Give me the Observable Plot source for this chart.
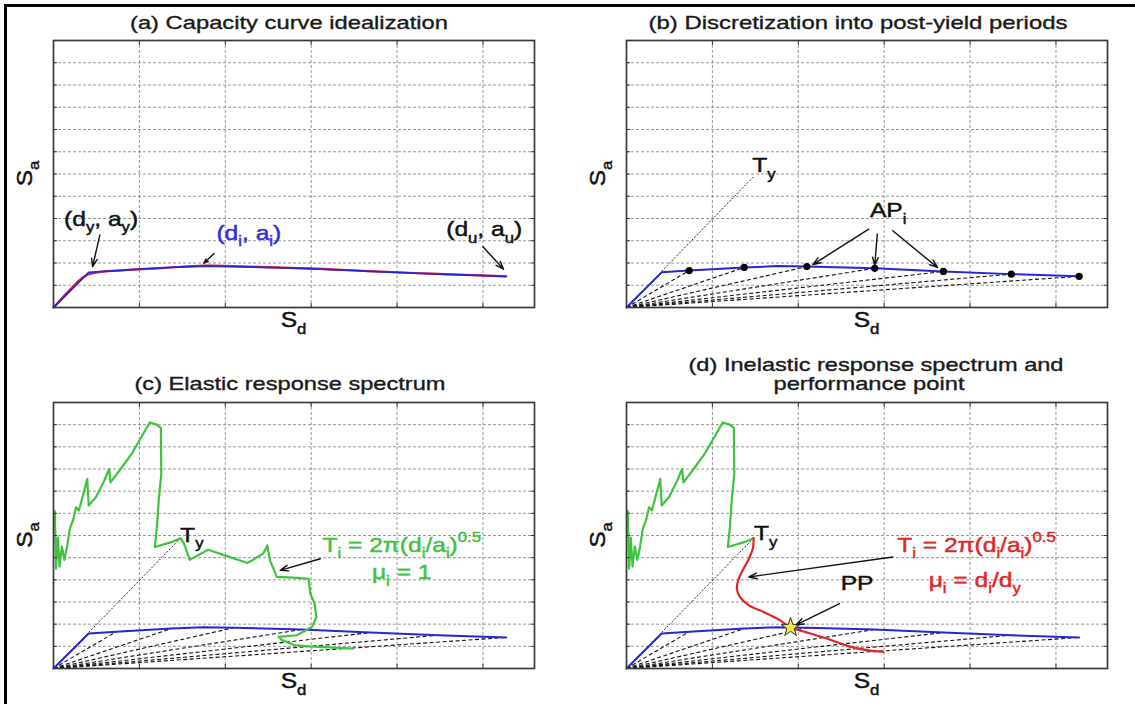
<!DOCTYPE html>
<html><head><meta charset="utf-8">
<script src="https://cdn.jsdelivr.net/npm/d3@7"></script>
<script src="https://cdn.jsdelivr.net/npm/@observablehq/plot@0.6"></script>
<style>
body{margin:0;background:#fff;}
#wrap{position:relative;width:1135px;height:704px;overflow:hidden;background:#fff;font-family:"Liberation Sans",Arial,sans-serif;}
.panel{position:absolute;}
#border{position:absolute;left:4px;top:4px;width:1200px;height:800px;border-top:3px solid #000;border-left:3px solid #000;}
#overlay{position:absolute;left:0;top:0;pointer-events:none;}
text{white-space:pre;}
</style></head><body><div id="wrap"><div id="border"></div></div>
<script>
// ---------- data (units: grid divisions) ----------
const xTicks = [1, 2, 3, 4, 5];
const yTicks = [1, 2, 3, 4, 5, 6, 7, 8, 9, 10, 11];
const origin = {sd: 0, sa: 0};

// original capacity curve (red)
const capX = [0, 0.30, 0.37, 0.45, 0.60, 0.90, 1.30, 1.75, 2.20, 2.60, 3.00, 3.60, 4.20, 4.80, 5.27];
const capY = [0, 1.22, 1.42, 1.53, 1.62, 1.70, 1.78, 1.88, 1.85, 1.80, 1.76, 1.65, 1.55, 1.47, 1.40];

// idealized multi-linear curve (blue)
const blueX = [0, 0.41, 0.73, 1.37, 1.75, 2.10, 2.89, 3.69, 4.48, 5.27];
const blueY = [0, 1.58, 1.66, 1.80, 1.86, 1.84, 1.76, 1.62, 1.50, 1.40];

// discretization points AP_i
const apX = [0.73, 1.37, 2.10, 2.89, 3.69, 4.48, 5.27];
const apY = [1.66, 1.80, 1.84, 1.76, 1.62, 1.50, 1.40];

// yield period line end
const tyX = 1.48, tyY = 5.88;

// elastic response spectrum (green)
const specX = [0.015, 0.030, 0.050, 0.070, 0.097, 0.127, 0.156, 0.190, 0.232, 0.262, 0.296, 0.393, 0.410, 0.494, 0.592, 0.647, 0.663, 0.782, 0.909, 1.120, 1.200, 1.250, 1.255, 1.225, 1.204, 1.180, 1.370, 1.480, 1.520, 1.585, 1.800, 2.030, 2.260, 2.440, 2.490, 2.520, 2.600, 2.790, 2.970, 2.990, 3.040, 3.060, 3.010, 2.930, 2.830, 2.620, 2.660, 2.810, 2.980, 3.490];
const specY = [7.10, 4.50, 5.90, 4.60, 5.50, 4.90, 5.45, 6.30, 6.75, 7.28, 7.13, 8.55, 7.35, 7.73, 8.48, 9.00, 8.40, 9.00, 9.68, 11.10, 11.00, 10.85, 8.78, 7.58, 6.38, 5.48, 5.70, 5.88, 5.63, 4.90, 5.36, 5.06, 4.76, 5.18, 5.55, 4.88, 4.13, 4.10, 4.05, 3.38, 2.93, 2.33, 1.88, 1.70, 1.50, 1.43, 1.28, 1.05, 1.00, 0.90];

// inelastic response spectrum (red)
const inelX = [1.48, 1.47, 1.425, 1.353, 1.30, 1.285, 1.32, 1.425, 1.595, 1.785, 1.91, 2.08, 2.33, 2.59, 2.80, 2.99];
const inelY = [5.88, 5.40, 4.95, 4.43, 3.98, 3.60, 3.23, 2.85, 2.55, 2.18, 1.85, 1.65, 1.35, 1.00, 0.83, 0.75];

// performance point
const ppX = [1.91], ppY = [1.85];

// titles
const titles = ["(a) Capacity curve idealization", "(b) Discretization into post-yield periods", "(c) Elastic response spectrum", "(d) Inelastic response spectrum and", "performance point"];

// annotation arrows [x1, y1, x2, y2] per panel
const arrowsA = [[0.54, 3.26, 0.455, 1.84], [1.87, 2.43, 1.75, 1.99], [5.0, 2.73, 5.24, 1.72]];
const arrowsB = [[2.82, 3.52, 2.17, 1.93], [2.92, 3.30, 2.89, 1.90], [3.10, 3.45, 3.62, 1.80]];
const arrowsC = [[3.106, 4.95, 2.64, 4.43]];
const arrowsD = [[3.10, 5.03, 1.425, 4.13], [2.48, 2.93, 1.975, 1.97]];

// annotation labels [x, y, text, colour, anchor]
const blueC = "#2626d6", greenC = "#3fc33f", redC = "#e02626";
const labelsA = [[0.56, 3.66, "(d_{y}, a_{y})", "#111", "middle"], [2.28, 3.03, "(d_{i}, a_{i})", "#2f2fe0", "middle"], [5.02, 3.20, "(d_{u}, a_{u})", "#111", "middle"]];
const labelsB = [[1.47, 6.07, "T_{y}", "#111", "start"], [2.84, 4.05, "AP_{i}", "#111", "start"]];
const labelsC = [[1.48, 5.70, "T_{y}", "#111", "start"], [4.06, 5.25, "T_{i} = 2π(d_{i}/a_{i})^{0.5}", greenC, "middle"], [4.06, 4.00, "μ_{i} = 1", greenC, "middle"]];
const labelsD = [[1.49, 5.78, "T_{y}", "#111", "start"], [4.08, 5.25, "T_{i} = 2π(d_{i}/a_{i})^{0.5}", redC, "middle"], [4.06, 3.67, "μ_{i} = d_{i}/d_{y}", redC, "middle"], [2.69, 3.52, "PP", "#111", "middle"]];

// ---------- helpers ----------
const rows = (xs, ys) => xs.map((x, i) => ({x, y: ys[i]}));
const capRows = rows(capX, capY);
const blueRows = rows(blueX, blueY);
const apRows = rows(apX, apY);
const specRows = rows(specX, specY);
const tyIndex = specX.findIndex((x, i) => x === tyX && specY[i] === tyY);
const specRowsD = specRows.slice(0, tyIndex + 1);
const inelRows = rows(inelX, inelY);
const ppRows = rows(ppX, ppY);
const periodRows = apRows.map(d => ({x1: origin.sd, y1: origin.sa, x2: d.x, y2: d.y}));
const tyRows = [{x1: origin.sd, y1: origin.sa, x2: tyX, y2: tyY}];
const arrowRows = a => a.map(([x1, y1, x2, y2]) => ({x1, y1, x2, y2}));

const FONT = '"Liberation Sans", Arial, Helvetica, sans-serif';
function rich(sel, px, py, str, {size = 20.5, color = "#111", anchor = "start", stretch = 1.2, rotate = 0} = {}) {
  const g = sel.append("g").attr("transform", `translate(${px},${py}) rotate(${rotate}) scale(${stretch},1)`);
  const t = g.append("text").attr("text-anchor", anchor).attr("fill", color)
    .attr("stroke", color).attr("stroke-width", 0.45)
    .attr("font-family", FONT).attr("font-size", size);
  const re = /([_^])\{([^}]*)\}/g;
  let last = 0, m; const parts = [];
  while ((m = re.exec(str))) {
    if (m.index > last) parts.push({t: str.slice(last, m.index), k: ""});
    parts.push({t: m[2], k: m[1]});
    last = re.lastIndex;
  }
  if (last < str.length) parts.push({t: str.slice(last), k: ""});
  let cur = 0;
  for (const p of parts) {
    const target = p.k === "_" ? 0.33 * size : p.k === "^" ? -0.45 * size : 0;
    t.append("tspan").text(p.t).attr("dy", target - cur).attr("font-size", p.k ? size * 0.68 : size);
    cur = target;
  }
  return g;
}

const wrap = document.getElementById("wrap");
const W = 567, H = 345;
const gridStyle = {stroke: "#6e6e6e", strokeOpacity: 0.9, strokeWidth: 0.8, strokeDasharray: "3,2"};
const tickAxes = [
  Plot.axisX({ticks: xTicks, anchor: "bottom", tickSize: -4, tickFormat: () => "", label: null, stroke: "#333"}),
  Plot.axisX({ticks: xTicks, anchor: "top", tickSize: -4, tickFormat: () => "", label: null, stroke: "#333"}),
  Plot.axisY({ticks: yTicks, anchor: "left", tickSize: -4, tickFormat: () => "", label: null, stroke: "#333"}),
  Plot.axisY({ticks: yTicks, anchor: "right", tickSize: -4, tickFormat: () => "", label: null, stroke: "#333"})
];

function panel({left, top, mt, mb, ml, mr, marks, arrows, labels}) {
  const plot = Plot.plot({
    width: W, height: H, marginTop: mt, marginBottom: mb, marginLeft: ml, marginRight: mr,
    style: {background: "transparent", overflow: "visible"},
    x: {domain: [0, 5.6]}, y: {domain: [0, 12]},
    marks: [
      Plot.gridX({ticks: xTicks, ...gridStyle}),
      Plot.gridY({ticks: yTicks, ...gridStyle}),
      ...marks,
      Plot.arrow(arrowRows(arrows), {x1: "x1", y1: "y1", x2: "x2", y2: "y2", stroke: "#111", strokeWidth: 1.4, headLength: 9, headAngle: 40}),
      ...tickAxes,
      Plot.frame({stroke: "#3a3a3a", strokeWidth: 1.7})
    ]
  });
  plot.classList.add("panel");
  plot.style.left = left + "px";
  plot.style.top = top + "px";
  wrap.appendChild(plot);
  const sx = plot.scale("x"), sy = plot.scale("y");
  const svg = d3.select(plot);
  for (const [x, y, s, c, a] of labels) rich(svg, sx.apply(x), sy.apply(y), s, {color: c, anchor: a});
  // axis labels
  const [x0, x1] = sx.range, [y0, y1] = sy.range;
  rich(svg, (x0 + x1) / 2, y0 + 20, "S_{d}", {size: 22, anchor: "middle", stretch: 1.12});
  rich(svg, x0 - 21, (y0 + y1) / 2, "S_{a}", {size: 22, anchor: "middle", stretch: 1.12, rotate: -90});
  return plot;
}

const periodLines = Plot.link(periodRows, {x1: "x1", y1: "y1", x2: "x2", y2: "y2", stroke: "#111", strokeWidth: 1.1, strokeDasharray: "4,2.5"});
const tyLine = Plot.link(tyRows, {x1: "x1", y1: "y1", x2: "x2", y2: "y2", stroke: "#111", strokeWidth: 0.9, strokeDasharray: "2,1.6"});
const blueLine = Plot.line(blueRows, {x: "x", y: "y", stroke: blueC, strokeWidth: 2});

panel({left: 0, top: 0, mt: 40, mb: 38, ml: 53, mr: 33, arrows: arrowsA, labels: labelsA, marks: [
  Plot.line(capRows, {x: "x", y: "y", stroke: "#e8203a", strokeWidth: 2.2, curve: "catmull-rom"}),
  Plot.line(blueRows, {x: "x", y: "y", stroke: blueC, strokeWidth: 1.8})
]});
panel({left: 568, top: 0, mt: 40, mb: 38, ml: 58, mr: 28, arrows: arrowsB, labels: labelsB, marks: [
  periodLines, tyLine, blueLine,
  Plot.dot(apRows, {x: "x", y: "y", r: 3.6, fill: "#000"})
]});
panel({left: 0, top: 352, mt: 50, mb: 29, ml: 53, mr: 33, arrows: arrowsC, labels: labelsC, marks: [
  periodLines, tyLine, blueLine,
  Plot.line(specRows, {x: "x", y: "y", stroke: greenC, strokeWidth: 2.2})
]});
panel({left: 568, top: 352, mt: 50, mb: 29, ml: 58, mr: 28, arrows: arrowsD, labels: labelsD, marks: [
  periodLines, tyLine, blueLine,
  Plot.line(specRowsD, {x: "x", y: "y", stroke: greenC, strokeWidth: 2.2}),
  Plot.line(inelRows, {x: "x", y: "y", stroke: redC, strokeWidth: 2.2, curve: "catmull-rom"}),
  Plot.dot(ppRows, {x: "x", y: "y", symbol: "star", r: 6, fill: "#f2e640", stroke: "#333", strokeWidth: 1})
]});

// titles overlay
const ov = d3.select(wrap).append("svg").attr("id", "overlay").attr("width", 1135).attr("height", 704);
const titlePos = [[289, 29, 318], [858, 29, 419], [290, 390, 311], [876, 371, 375], [869, 390, 191]];
titles.forEach((t, i) => {
  const [x, y, w] = titlePos[i];
  ov.append("text").attr("x", x).attr("y", y).attr("text-anchor", "middle")
    .attr("font-family", FONT).attr("font-size", 18.5).attr("fill", "#1a1a1a")
    .attr("stroke", "#1a1a1a").attr("stroke-width", 0.35)
    .attr("textLength", w).attr("lengthAdjust", "spacingAndGlyphs").text(t);
});
</script></body></html>
